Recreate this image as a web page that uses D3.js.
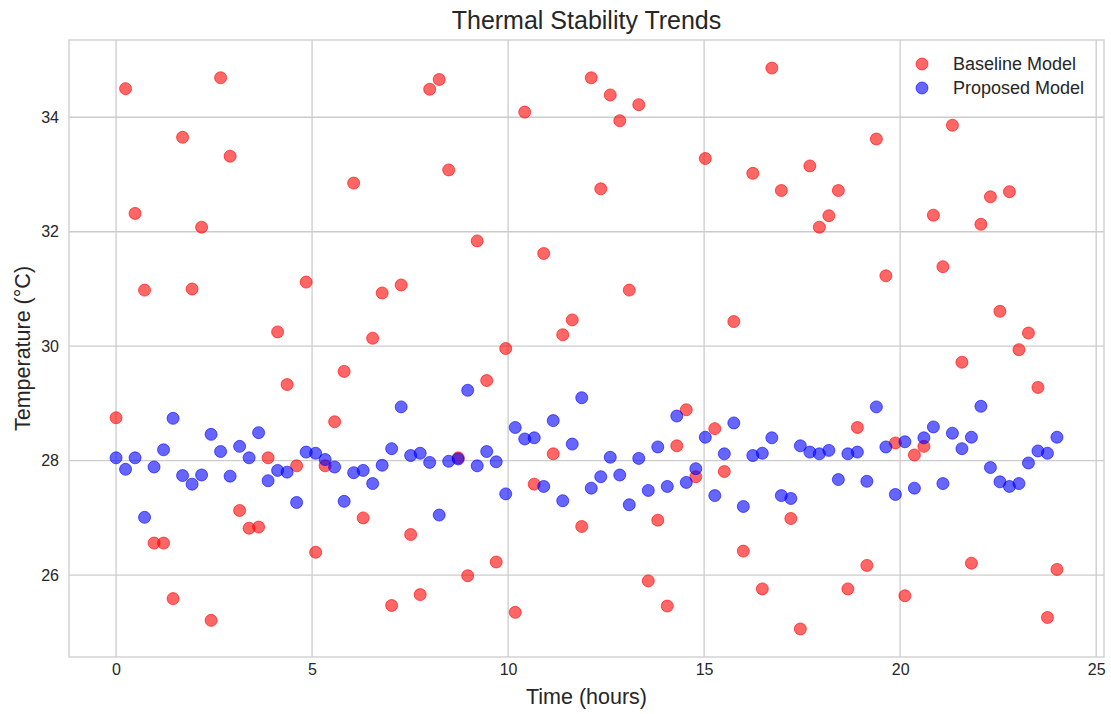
<!DOCTYPE html>
<html>
<head>
<meta charset="utf-8">
<script src="https://cdn.jsdelivr.net/npm/d3@7"></script>
<style>
  html, body { margin: 0; padding: 0; background: #ffffff; }
  svg { display: block; }
  text { font-family: "Liberation Sans", Arial, Helvetica, sans-serif; }
</style>
</head>
<body>
<div id="chart"></div>
<script>
// Time samples: 100 readings spread evenly across 24 hours
const sampleCount = 100;
const hoursSpan = 24;

// Temperature readings (°C) for each sample
const baselineTemps = [
  28.75, 34.50, 32.32, 30.98, 26.56, 26.56, 25.59, 33.65, 31.00, 32.08,
  25.21, 34.69, 33.32, 27.13, 26.82, 26.84, 28.05, 30.25, 29.33, 27.91,
  31.12, 26.40, 27.91, 28.68, 29.56, 32.85, 27.00, 30.14, 30.93, 25.47,
  31.07, 26.71, 25.66, 34.49, 34.66, 33.08, 28.05, 25.99, 31.84, 29.40,
  26.23, 29.96, 25.35, 34.09, 27.59, 31.62, 28.12, 30.20, 30.46, 26.85,
  34.69, 32.75, 34.39, 33.94, 30.98, 34.22, 25.90, 26.96, 25.46, 28.26,
  28.89, 27.72, 33.28, 28.56, 27.81, 30.43, 26.42, 33.02, 25.76, 34.86,
  32.72, 26.99, 25.06, 33.15, 32.08, 32.28, 32.72, 25.76, 28.58, 26.17,
  33.62, 31.23, 28.31, 25.64, 28.10, 28.25, 32.29, 31.39, 33.86, 29.72,
  26.21, 32.13, 32.61, 30.61, 32.70, 29.94, 30.23, 29.28, 25.26, 26.10
];

const proposedTemps = [
  28.05, 27.85, 28.05, 27.01, 27.89, 28.19, 28.74, 27.74, 27.59, 27.75,
  28.46, 28.16, 27.73, 28.25, 28.05, 28.49, 27.65, 27.83, 27.80, 27.27,
  28.15, 28.13, 28.02, 27.89, 27.29, 27.79, 27.83, 27.60, 27.92, 28.21,
  28.94, 28.09, 28.13, 27.97, 27.05, 27.99, 28.03, 29.23, 27.91, 28.16,
  27.98, 27.42, 28.58, 28.38, 28.40, 27.55, 28.70, 27.30, 28.29, 29.10,
  27.52, 27.72, 28.06, 27.75, 27.23, 28.04, 27.48, 28.24, 27.55, 28.78,
  27.62, 27.86, 28.41, 27.39, 28.12, 28.66, 27.20, 28.09, 28.13, 28.40,
  27.39, 27.34, 28.26, 28.15, 28.12, 28.18, 27.67, 28.12, 28.15, 27.64,
  28.94, 28.24, 27.41, 28.33, 27.52, 28.40, 28.59, 27.60, 28.48, 28.21,
  28.41, 28.95, 27.88, 27.63, 27.55, 27.60, 27.96, 28.17, 28.13, 28.41
];

const seriesNames = ["Baseline Model", "Proposed Model"];
const seriesColors = ["#ff0000", "#0000ff"];
const xTicks = [0, 5, 10, 15, 20, 25];
const yTicks = [26, 28, 30, 32, 34];

const hours = d3.range(sampleCount).map(i => i * hoursSpan / (sampleCount - 1));

const W = 1111, H = 714;
const plot = { left: 69, right: 1104, top: 40, bottom: 657 };

const svg = d3.select("#chart").append("svg")
  .attr("width", W).attr("height", H);

// Axis domains padded 5% beyond the data
const xExt = d3.extent(hours);
const xPad = (xExt[1] - xExt[0]) * 0.05;
const allTemps = baselineTemps.concat(proposedTemps);
const yExt = d3.extent(allTemps);
const yPad = (yExt[1] - yExt[0]) * 0.05;

const x = d3.scaleLinear().domain([xExt[0] - xPad, xExt[1] + xPad]).range([plot.left, plot.right]);
const y = d3.scaleLinear().domain([yExt[0] - yPad, yExt[1] + yPad]).range([plot.bottom, plot.top]);

const gridColor = "#cccccc";
const textColor = "#262626";

// Grid lines
const grid = svg.append("g");
grid.selectAll(".vx").data(xTicks).enter().append("line")
  .attr("x1", d => x(d)).attr("x2", d => x(d))
  .attr("y1", plot.top).attr("y2", plot.bottom)
  .attr("stroke", gridColor).attr("stroke-width", 1.3);
grid.selectAll(".hy").data(yTicks).enter().append("line")
  .attr("x1", plot.left).attr("x2", plot.right)
  .attr("y1", d => y(d)).attr("y2", d => y(d))
  .attr("stroke", gridColor).attr("stroke-width", 1.3);

// Frame
svg.append("rect")
  .attr("x", plot.left).attr("y", plot.top)
  .attr("width", plot.right - plot.left).attr("height", plot.bottom - plot.top)
  .attr("fill", "none").attr("stroke", gridColor).attr("stroke-width", 1.3);

// Axes (tick labels only, no tick marks)
const xAxis = svg.append("g")
  .attr("transform", `translate(0,${plot.bottom})`)
  .call(d3.axisBottom(x).tickValues(xTicks).tickSize(0).tickPadding(7).tickFormat(d3.format("d")));
const yAxis = svg.append("g")
  .attr("transform", `translate(${plot.left},0)`)
  .call(d3.axisLeft(y).tickValues(yTicks).tickSize(0).tickPadding(10).tickFormat(d3.format("d")));
[xAxis, yAxis].forEach(g => {
  g.select(".domain").remove();
  g.selectAll("text")
    .attr("font-size", 16)
    .attr("fill", textColor)
    .style("font-family", '"Liberation Sans", Arial, Helvetica, sans-serif');
});

// Points
const series = [baselineTemps, proposedTemps];
series.forEach((vals, si) => {
  svg.append("g").selectAll("circle")
    .data(vals).enter().append("circle")
    .attr("cx", (d, i) => x(hours[i]))
    .attr("cy", d => y(d))
    .attr("r", 6)
    .attr("fill", seriesColors[si]).attr("fill-opacity", 0.6)
    .attr("stroke", seriesColors[si]).attr("stroke-opacity", 0.6)
    .attr("stroke-width", 1);
});

// Title and axis labels
svg.append("text")
  .attr("x", (plot.left + plot.right) / 2).attr("y", 29)
  .attr("text-anchor", "middle")
  .attr("font-size", 25).attr("fill", textColor)
  .text("Thermal Stability Trends");

svg.append("text")
  .attr("x", (plot.left + plot.right) / 2).attr("y", 704)
  .attr("text-anchor", "middle")
  .attr("font-size", 21.5).attr("fill", textColor)
  .text("Time (hours)");

svg.append("text")
  .attr("transform", `translate(30,${(plot.top + plot.bottom) / 2}) rotate(-90)`)
  .attr("text-anchor", "middle")
  .attr("font-size", 21.5).attr("fill", textColor)
  .text("Temperature (°C)");

// Legend
const legend = svg.append("g");
seriesNames.forEach((name, i) => {
  const ly = 64 + i * 24;
  legend.append("circle")
    .attr("cx", 922).attr("cy", ly).attr("r", 6)
    .attr("fill", seriesColors[i]).attr("fill-opacity", 0.6)
    .attr("stroke", seriesColors[i]).attr("stroke-opacity", 0.6)
    .attr("stroke-width", 1);
  legend.append("text")
    .attr("x", 953).attr("y", ly).attr("dy", "0.35em")
    .attr("font-size", 18).attr("fill", textColor)
    .text(name);
});
</script>
</body>
</html>
